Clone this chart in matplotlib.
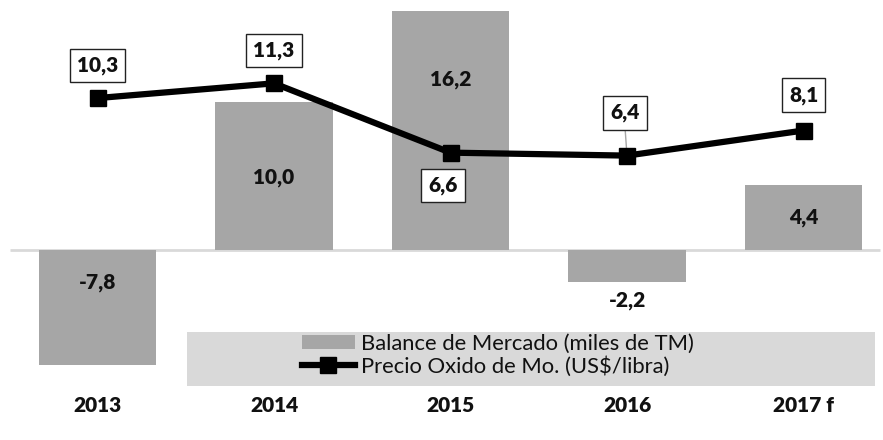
import matplotlib
matplotlib.use("Agg")
import matplotlib.pyplot as plt
from matplotlib.patches import Rectangle, Patch
from matplotlib.lines import Line2D

plt.rcParams['font.family'] = ['Lato', 'DejaVu Sans']

years = ["2013", "2014", "2015", "2016", "2017 f"]
balance = [-7.8, 10.0, 16.2, -2.2, 4.4]
price = [10.3, 11.3, 6.6, 6.4, 8.1]
balance_labels = ["-7,8", "10,0", "16,2", "-2,2", "4,4"]
price_labels = ["10,3", "11,3", "6,6", "6,4", "8,1"]

# label placement (data units)
bal_label_y = [-2.17, 4.92, 11.53, -3.39, 2.17]
price_label_y = [12.51, 13.53, 4.37, 9.29, 10.5]
price_label_dx = [0.0, 0.0, -0.04, -0.01, 0.0]

W, H = 883, 440
fig = plt.figure(figsize=(W / 100, H / 100), dpi=100)
px = 14.75  # pixels per unit
zero_px = 250
ymax = zero_px / px
ymin = -(H - zero_px) / px
ax = fig.add_axes([9.25 / W, 0, 882.5 / W, 1])
ax.set_xlim(-0.5, 4.5)
ax.set_ylim(ymin, ymax)
ax.axis('off')

x = list(range(len(years)))
ax.bar(x, balance, width=0.663, color='#a6a6a6', zorder=2)
# zero axis line (from x=10px to x=880px)
x0 = -0.5 + (10 - 9.25) / 882.5 * 5
x1 = -0.5 + (880 - 9.25) / 882.5 * 5
ax.plot([x0, x1], [0, 0], color='#d9d9d9', lw=2, zorder=1, solid_capstyle='butt')

ax.plot(x, price, color='black', lw=4.5, marker='s', markersize=11,
        markerfacecolor='black', zorder=4)

WEIGHT = 'heavy'
for xi, yl, t in zip(x, bal_label_y, balance_labels):
    ax.text(xi, yl, t, ha='center', va='center', fontsize=15,
            fontweight=WEIGHT, color='#111111', zorder=5)

for xi, yi, yl, dx, t in zip(x, price, price_label_y, price_label_dx, price_labels):
    if years[xi] == "2016":
        ax.plot([xi + dx, xi], [yl - 1.2, yi], color='#a6a6a6', lw=1, zorder=3)
    ax.text(xi + dx, yl, t, ha='center', va='center', fontsize=15,
            fontweight=WEIGHT, color='#111111', zorder=6,
            bbox=dict(boxstyle='square,pad=0.35', facecolor='white',
                      edgecolor='#222222', linewidth=1))

for xi, t in zip(x, years):
    ax.text(xi, (zero_px - 405) / px, t, ha='center', va='center',
            fontsize=15, fontweight=WEIGHT, color='#111111')

# legend background
fig.patches.append(Rectangle((187 / W, 1 - 386 / H), 688 / W, 54 / H,
                             transform=fig.transFigure, facecolor='#d9d9d9',
                             edgecolor='none', zorder=0))
handles = [Patch(facecolor='#a6a6a6', edgecolor='none'),
           Line2D([0], [0], color='black', lw=4.5, marker='s', markersize=11)]
labels = ["Balance de Mercado (miles de TM)", "Precio Oxido de Mo. (US$/libra)"]
leg = fig.legend(handles, labels, loc='upper left',
                 bbox_to_anchor=(302 / W, 1 - 334 / H), frameon=False,
                 fontsize=15.8, handlelength=2.4, handleheight=0.6,
                 handletextpad=0.3, labelspacing=0.08, borderpad=0,
                 borderaxespad=0)
for t in leg.get_texts():
    t.set_color('#111111')

fig.savefig("out.png", dpi=100)
